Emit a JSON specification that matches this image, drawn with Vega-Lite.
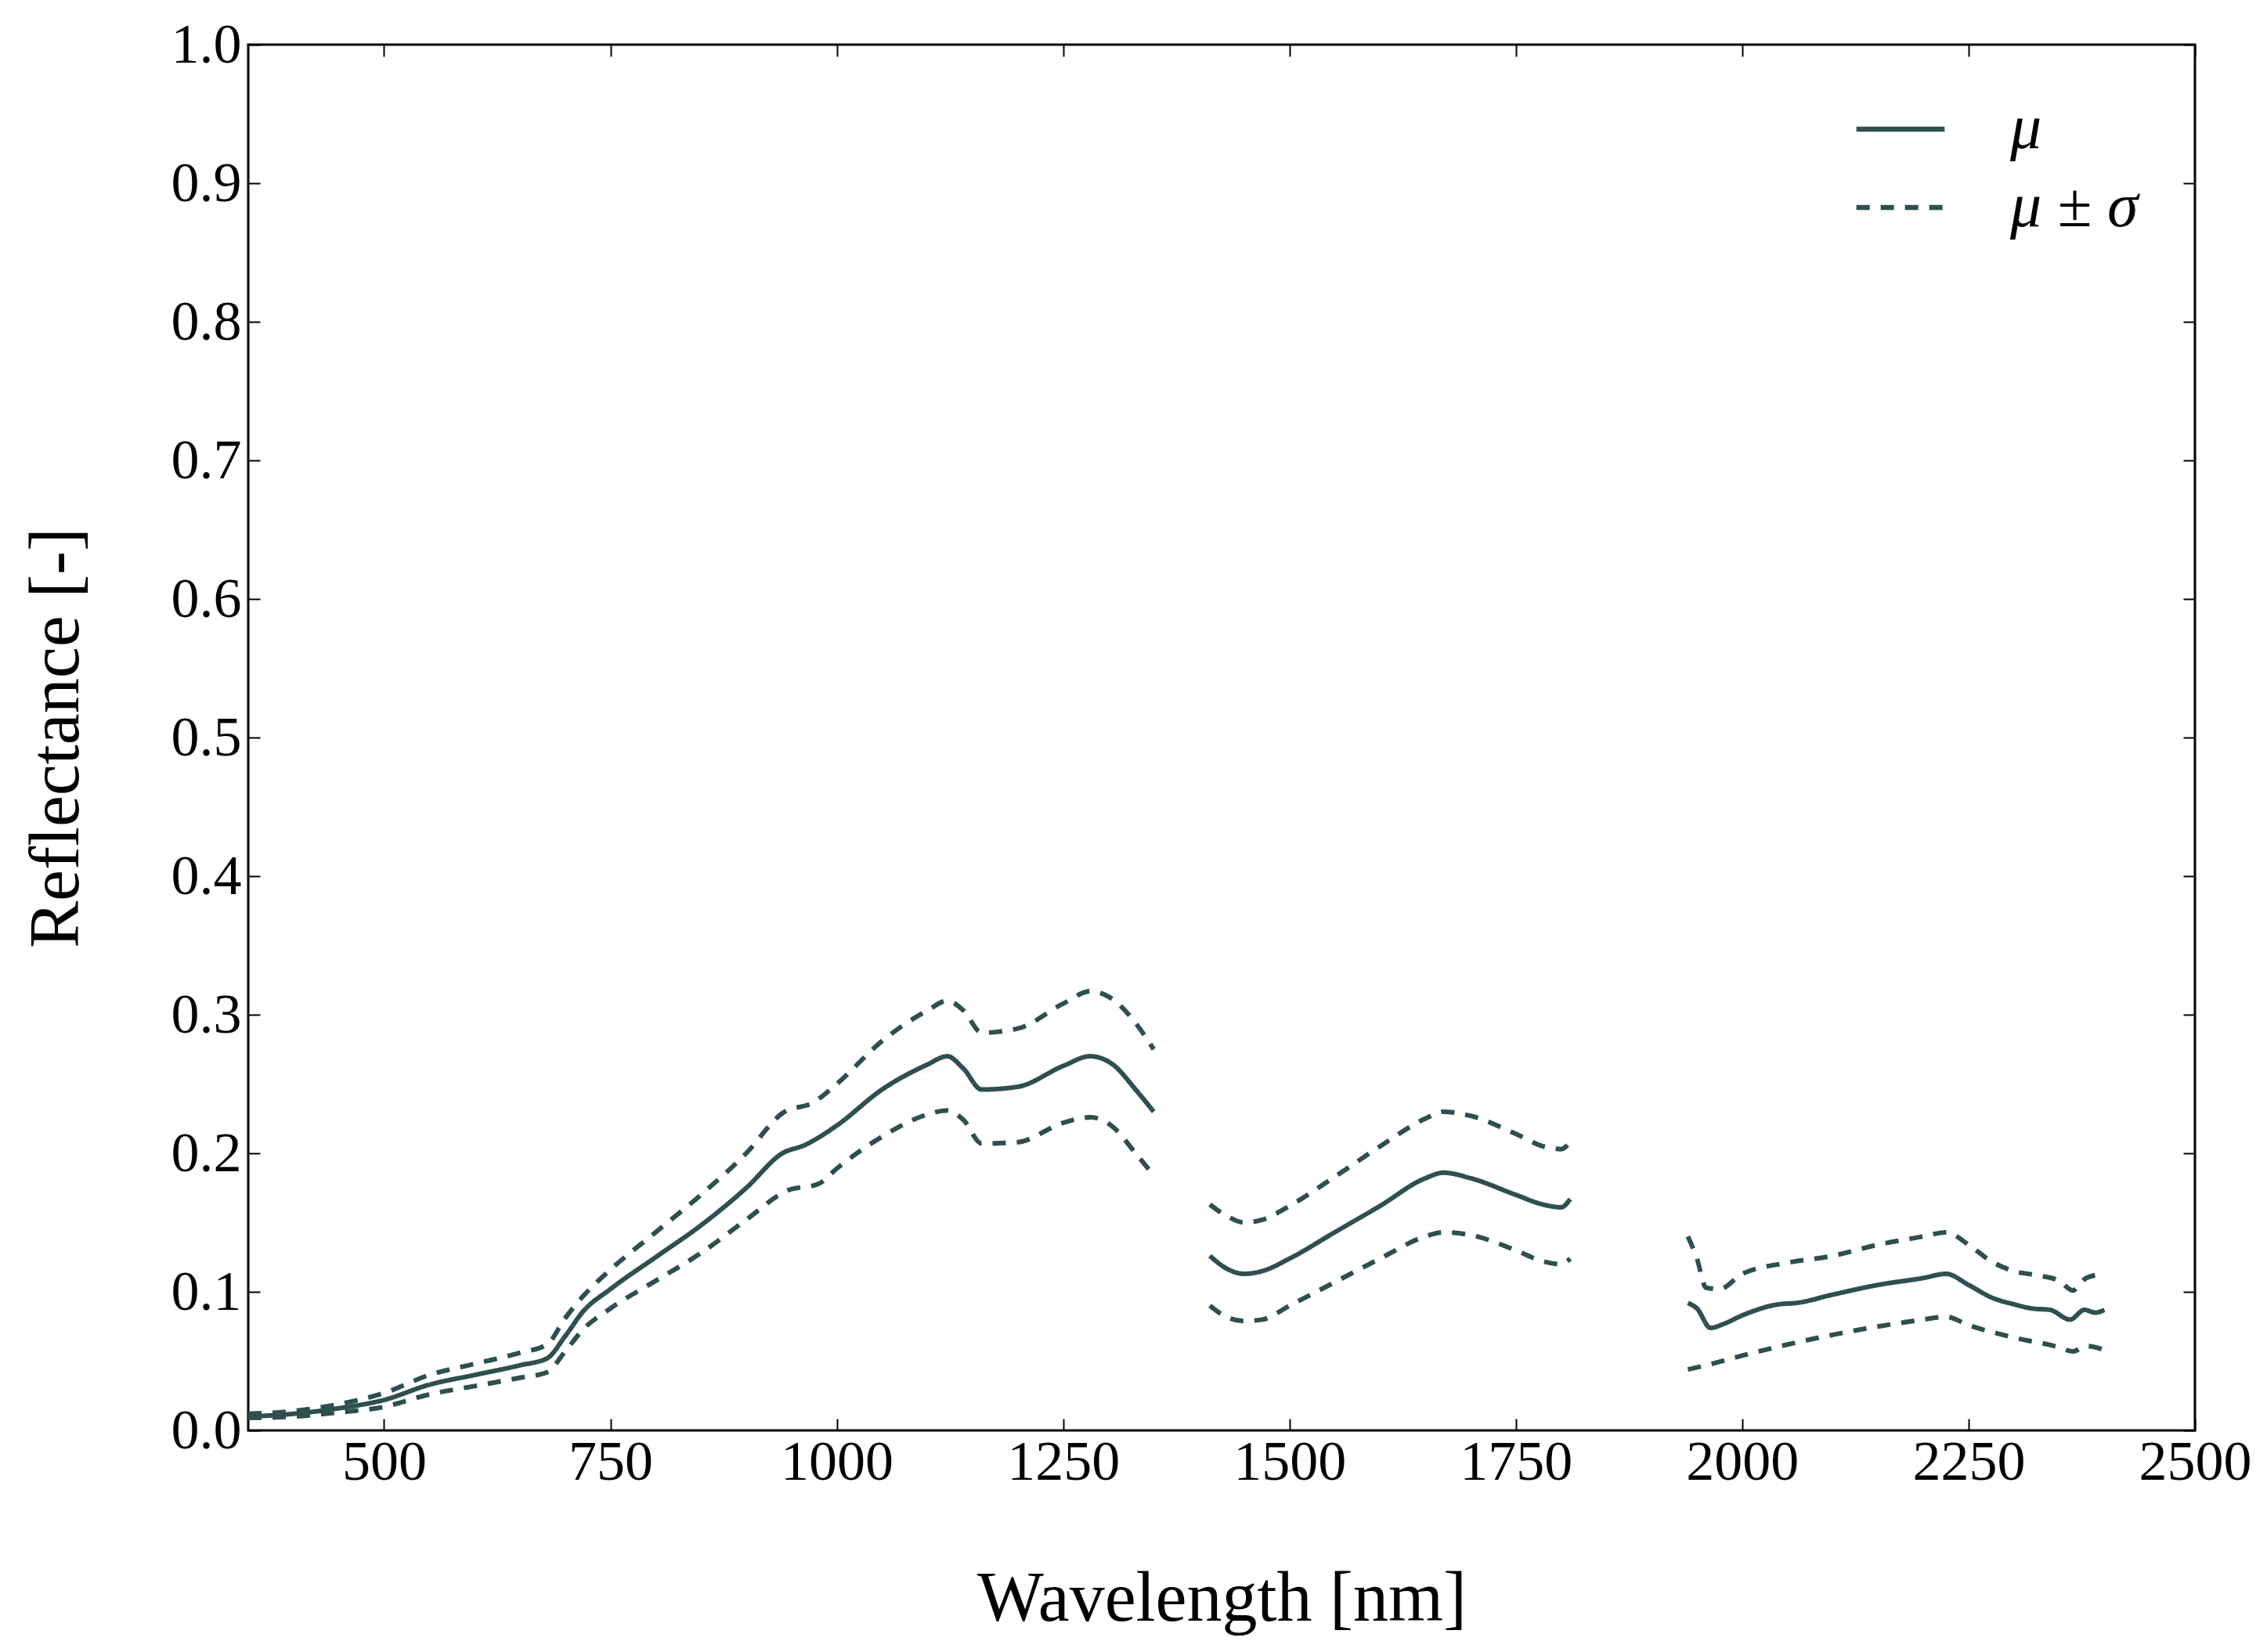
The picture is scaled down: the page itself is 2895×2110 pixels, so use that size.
{
  "$schema": "https://vega.github.io/schema/vega-lite/v6.json",
  "width": 2486,
  "height": 1770,
  "autosize": {"type": "none"},
  "padding": {"left": 317, "top": 57, "right": 92, "bottom": 283},
  "background": "white",
  "config": {
    "view": {"stroke": "black", "strokeWidth": 3},
    "font": "Liberation Serif",
    "axis": {
      "labelFont": "Liberation Serif",
      "titleFont": "Liberation Serif",
      "labelFontSize": 72,
      "titleFontSize": 90,
      "titleFontWeight": "normal",
      "labelColor": "black",
      "titleColor": "black",
      "tickColor": "black",
      "tickWidth": 2,
      "tickSize": -15,
      "grid": false,
      "domain": false,
      "labelOverlap": false,
      "labelFlush": false,
      "labelBound": false
    }
  },
  "data": {
    "values": [
      {"wl": 350, "r": 0.010, "k": "μ", "s": "m1"},
      {"wl": 400, "r": 0.012, "k": "μ", "s": "m1"},
      {"wl": 450, "r": 0.016, "k": "μ", "s": "m1"},
      {"wl": 500, "r": 0.022, "k": "μ", "s": "m1"},
      {"wl": 550, "r": 0.033, "k": "μ", "s": "m1"},
      {"wl": 600, "r": 0.040, "k": "μ", "s": "m1"},
      {"wl": 650, "r": 0.047, "k": "μ", "s": "m1"},
      {"wl": 680, "r": 0.052, "k": "μ", "s": "m1"},
      {"wl": 700, "r": 0.068, "k": "μ", "s": "m1"},
      {"wl": 720, "r": 0.086, "k": "μ", "s": "m1"},
      {"wl": 750, "r": 0.102, "k": "μ", "s": "m1"},
      {"wl": 800, "r": 0.125, "k": "μ", "s": "m1"},
      {"wl": 850, "r": 0.148, "k": "μ", "s": "m1"},
      {"wl": 900, "r": 0.175, "k": "μ", "s": "m1"},
      {"wl": 940, "r": 0.200, "k": "μ", "s": "m1"},
      {"wl": 965, "r": 0.206, "k": "μ", "s": "m1"},
      {"wl": 1000, "r": 0.220, "k": "μ", "s": "m1"},
      {"wl": 1050, "r": 0.246, "k": "μ", "s": "m1"},
      {"wl": 1100, "r": 0.264, "k": "μ", "s": "m1"},
      {"wl": 1122, "r": 0.270, "k": "μ", "s": "m1"},
      {"wl": 1140, "r": 0.261, "k": "μ", "s": "m1"},
      {"wl": 1160, "r": 0.246, "k": "μ", "s": "m1"},
      {"wl": 1200, "r": 0.248, "k": "μ", "s": "m1"},
      {"wl": 1250, "r": 0.263, "k": "μ", "s": "m1"},
      {"wl": 1280, "r": 0.270, "k": "μ", "s": "m1"},
      {"wl": 1305, "r": 0.264, "k": "μ", "s": "m1"},
      {"wl": 1330, "r": 0.246, "k": "μ", "s": "m1"},
      {"wl": 1350, "r": 0.230, "k": "μ", "s": "m1"},

      {"wl": 350, "r": 0.012, "k": "μ ± σ", "s": "u1"},
      {"wl": 400, "r": 0.014, "k": "μ ± σ", "s": "u1"},
      {"wl": 450, "r": 0.019, "k": "μ ± σ", "s": "u1"},
      {"wl": 500, "r": 0.027, "k": "μ ± σ", "s": "u1"},
      {"wl": 550, "r": 0.040, "k": "μ ± σ", "s": "u1"},
      {"wl": 600, "r": 0.048, "k": "μ ± σ", "s": "u1"},
      {"wl": 650, "r": 0.056, "k": "μ ± σ", "s": "u1"},
      {"wl": 680, "r": 0.062, "k": "μ ± σ", "s": "u1"},
      {"wl": 700, "r": 0.081, "k": "μ ± σ", "s": "u1"},
      {"wl": 720, "r": 0.097, "k": "μ ± σ", "s": "u1"},
      {"wl": 750, "r": 0.116, "k": "μ ± σ", "s": "u1"},
      {"wl": 800, "r": 0.143, "k": "μ ± σ", "s": "u1"},
      {"wl": 850, "r": 0.170, "k": "μ ± σ", "s": "u1"},
      {"wl": 900, "r": 0.200, "k": "μ ± σ", "s": "u1"},
      {"wl": 940, "r": 0.229, "k": "μ ± σ", "s": "u1"},
      {"wl": 975, "r": 0.237, "k": "μ ± σ", "s": "u1"},
      {"wl": 1000, "r": 0.250, "k": "μ ± σ", "s": "u1"},
      {"wl": 1050, "r": 0.281, "k": "μ ± σ", "s": "u1"},
      {"wl": 1100, "r": 0.303, "k": "μ ± σ", "s": "u1"},
      {"wl": 1122, "r": 0.310, "k": "μ ± σ", "s": "u1"},
      {"wl": 1140, "r": 0.303, "k": "μ ± σ", "s": "u1"},
      {"wl": 1160, "r": 0.287, "k": "μ ± σ", "s": "u1"},
      {"wl": 1200, "r": 0.290, "k": "μ ± σ", "s": "u1"},
      {"wl": 1250, "r": 0.308, "k": "μ ± σ", "s": "u1"},
      {"wl": 1280, "r": 0.317, "k": "μ ± σ", "s": "u1"},
      {"wl": 1305, "r": 0.311, "k": "μ ± σ", "s": "u1"},
      {"wl": 1330, "r": 0.294, "k": "μ ± σ", "s": "u1"},
      {"wl": 1350, "r": 0.275, "k": "μ ± σ", "s": "u1"},

      {"wl": 350, "r": 0.009, "k": "μ ± σ", "s": "l1"},
      {"wl": 400, "r": 0.010, "k": "μ ± σ", "s": "l1"},
      {"wl": 450, "r": 0.013, "k": "μ ± σ", "s": "l1"},
      {"wl": 500, "r": 0.017, "k": "μ ± σ", "s": "l1"},
      {"wl": 550, "r": 0.026, "k": "μ ± σ", "s": "l1"},
      {"wl": 600, "r": 0.032, "k": "μ ± σ", "s": "l1"},
      {"wl": 650, "r": 0.038, "k": "μ ± σ", "s": "l1"},
      {"wl": 680, "r": 0.042, "k": "μ ± σ", "s": "l1"},
      {"wl": 700, "r": 0.057, "k": "μ ± σ", "s": "l1"},
      {"wl": 720, "r": 0.073, "k": "μ ± σ", "s": "l1"},
      {"wl": 750, "r": 0.088, "k": "μ ± σ", "s": "l1"},
      {"wl": 800, "r": 0.108, "k": "μ ± σ", "s": "l1"},
      {"wl": 850, "r": 0.128, "k": "μ ± σ", "s": "l1"},
      {"wl": 900, "r": 0.152, "k": "μ ± σ", "s": "l1"},
      {"wl": 945, "r": 0.173, "k": "μ ± σ", "s": "l1"},
      {"wl": 980, "r": 0.178, "k": "μ ± σ", "s": "l1"},
      {"wl": 1000, "r": 0.189, "k": "μ ± σ", "s": "l1"},
      {"wl": 1050, "r": 0.212, "k": "μ ± σ", "s": "l1"},
      {"wl": 1100, "r": 0.228, "k": "μ ± σ", "s": "l1"},
      {"wl": 1122, "r": 0.231, "k": "μ ± σ", "s": "l1"},
      {"wl": 1140, "r": 0.224, "k": "μ ± σ", "s": "l1"},
      {"wl": 1160, "r": 0.207, "k": "μ ± σ", "s": "l1"},
      {"wl": 1200, "r": 0.208, "k": "μ ± σ", "s": "l1"},
      {"wl": 1250, "r": 0.222, "k": "μ ± σ", "s": "l1"},
      {"wl": 1280, "r": 0.226, "k": "μ ± σ", "s": "l1"},
      {"wl": 1305, "r": 0.219, "k": "μ ± σ", "s": "l1"},
      {"wl": 1330, "r": 0.200, "k": "μ ± σ", "s": "l1"},
      {"wl": 1350, "r": 0.184, "k": "μ ± σ", "s": "l1"},

      {"wl": 1412, "r": 0.126, "k": "μ", "s": "m2"},
      {"wl": 1430, "r": 0.117, "k": "μ", "s": "m2"},
      {"wl": 1450, "r": 0.113, "k": "μ", "s": "m2"},
      {"wl": 1470, "r": 0.115, "k": "μ", "s": "m2"},
      {"wl": 1500, "r": 0.124, "k": "μ", "s": "m2"},
      {"wl": 1550, "r": 0.143, "k": "μ", "s": "m2"},
      {"wl": 1600, "r": 0.162, "k": "μ", "s": "m2"},
      {"wl": 1650, "r": 0.182, "k": "μ", "s": "m2"},
      {"wl": 1670, "r": 0.186, "k": "μ", "s": "m2"},
      {"wl": 1700, "r": 0.182, "k": "μ", "s": "m2"},
      {"wl": 1750, "r": 0.170, "k": "μ", "s": "m2"},
      {"wl": 1780, "r": 0.163, "k": "μ", "s": "m2"},
      {"wl": 1800, "r": 0.161, "k": "μ", "s": "m2"},
      {"wl": 1810, "r": 0.167, "k": "μ", "s": "m2"},

      {"wl": 1412, "r": 0.163, "k": "μ ± σ", "s": "u2"},
      {"wl": 1430, "r": 0.155, "k": "μ ± σ", "s": "u2"},
      {"wl": 1450, "r": 0.150, "k": "μ ± σ", "s": "u2"},
      {"wl": 1470, "r": 0.152, "k": "μ ± σ", "s": "u2"},
      {"wl": 1500, "r": 0.162, "k": "μ ± σ", "s": "u2"},
      {"wl": 1550, "r": 0.183, "k": "μ ± σ", "s": "u2"},
      {"wl": 1600, "r": 0.205, "k": "μ ± σ", "s": "u2"},
      {"wl": 1650, "r": 0.225, "k": "μ ± σ", "s": "u2"},
      {"wl": 1670, "r": 0.230, "k": "μ ± σ", "s": "u2"},
      {"wl": 1700, "r": 0.227, "k": "μ ± σ", "s": "u2"},
      {"wl": 1750, "r": 0.214, "k": "μ ± σ", "s": "u2"},
      {"wl": 1780, "r": 0.205, "k": "μ ± σ", "s": "u2"},
      {"wl": 1800, "r": 0.203, "k": "μ ± σ", "s": "u2"},
      {"wl": 1810, "r": 0.208, "k": "μ ± σ", "s": "u2"},

      {"wl": 1412, "r": 0.090, "k": "μ ± σ", "s": "l2"},
      {"wl": 1430, "r": 0.082, "k": "μ ± σ", "s": "l2"},
      {"wl": 1450, "r": 0.079, "k": "μ ± σ", "s": "l2"},
      {"wl": 1470, "r": 0.080, "k": "μ ± σ", "s": "l2"},
      {"wl": 1500, "r": 0.090, "k": "μ ± σ", "s": "l2"},
      {"wl": 1550, "r": 0.107, "k": "μ ± σ", "s": "l2"},
      {"wl": 1600, "r": 0.124, "k": "μ ± σ", "s": "l2"},
      {"wl": 1650, "r": 0.140, "k": "μ ± σ", "s": "l2"},
      {"wl": 1670, "r": 0.143, "k": "μ ± σ", "s": "l2"},
      {"wl": 1700, "r": 0.141, "k": "μ ± σ", "s": "l2"},
      {"wl": 1750, "r": 0.130, "k": "μ ± σ", "s": "l2"},
      {"wl": 1780, "r": 0.122, "k": "μ ± σ", "s": "l2"},
      {"wl": 1800, "r": 0.120, "k": "μ ± σ", "s": "l2"},
      {"wl": 1810, "r": 0.124, "k": "μ ± σ", "s": "l2"},

      {"wl": 1940, "r": 0.092, "k": "μ", "s": "m3"},
      {"wl": 1950, "r": 0.088, "k": "μ", "s": "m3"},
      {"wl": 1965, "r": 0.074, "k": "μ", "s": "m3"},
      {"wl": 1980, "r": 0.077, "k": "μ", "s": "m3"},
      {"wl": 2000, "r": 0.083, "k": "μ", "s": "m3"},
      {"wl": 2040, "r": 0.091, "k": "μ", "s": "m3"},
      {"wl": 2060, "r": 0.092, "k": "μ", "s": "m3"},
      {"wl": 2100, "r": 0.098, "k": "μ", "s": "m3"},
      {"wl": 2150, "r": 0.105, "k": "μ", "s": "m3"},
      {"wl": 2200, "r": 0.110, "k": "μ", "s": "m3"},
      {"wl": 2225, "r": 0.113, "k": "μ", "s": "m3"},
      {"wl": 2250, "r": 0.105, "k": "μ", "s": "m3"},
      {"wl": 2275, "r": 0.096, "k": "μ", "s": "m3"},
      {"wl": 2300, "r": 0.091, "k": "μ", "s": "m3"},
      {"wl": 2320, "r": 0.088, "k": "μ", "s": "m3"},
      {"wl": 2340, "r": 0.087, "k": "μ", "s": "m3"},
      {"wl": 2362, "r": 0.080, "k": "μ", "s": "m3"},
      {"wl": 2378, "r": 0.087, "k": "μ", "s": "m3"},
      {"wl": 2390, "r": 0.085, "k": "μ", "s": "m3"},
      {"wl": 2400, "r": 0.087, "k": "μ", "s": "m3"},

      {"wl": 1940, "r": 0.140, "k": "μ ± σ", "s": "u3"},
      {"wl": 1950, "r": 0.124, "k": "μ ± σ", "s": "u3"},
      {"wl": 1960, "r": 0.103, "k": "μ ± σ", "s": "u3"},
      {"wl": 1975, "r": 0.102, "k": "μ ± σ", "s": "u3"},
      {"wl": 2000, "r": 0.113, "k": "μ ± σ", "s": "u3"},
      {"wl": 2050, "r": 0.121, "k": "μ ± σ", "s": "u3"},
      {"wl": 2100, "r": 0.126, "k": "μ ± σ", "s": "u3"},
      {"wl": 2150, "r": 0.134, "k": "μ ± σ", "s": "u3"},
      {"wl": 2200, "r": 0.140, "k": "μ ± σ", "s": "u3"},
      {"wl": 2225, "r": 0.143, "k": "μ ± σ", "s": "u3"},
      {"wl": 2250, "r": 0.134, "k": "μ ± σ", "s": "u3"},
      {"wl": 2275, "r": 0.122, "k": "μ ± σ", "s": "u3"},
      {"wl": 2300, "r": 0.115, "k": "μ ± σ", "s": "u3"},
      {"wl": 2325, "r": 0.112, "k": "μ ± σ", "s": "u3"},
      {"wl": 2350, "r": 0.108, "k": "μ ± σ", "s": "u3"},
      {"wl": 2365, "r": 0.101, "k": "μ ± σ", "s": "u3"},
      {"wl": 2380, "r": 0.110, "k": "μ ± σ", "s": "u3"},
      {"wl": 2400, "r": 0.113, "k": "μ ± σ", "s": "u3"},

      {"wl": 1940, "r": 0.044, "k": "μ ± σ", "s": "l3"},
      {"wl": 1960, "r": 0.047, "k": "μ ± σ", "s": "l3"},
      {"wl": 2000, "r": 0.054, "k": "μ ± σ", "s": "l3"},
      {"wl": 2050, "r": 0.062, "k": "μ ± σ", "s": "l3"},
      {"wl": 2100, "r": 0.069, "k": "μ ± σ", "s": "l3"},
      {"wl": 2150, "r": 0.075, "k": "μ ± σ", "s": "l3"},
      {"wl": 2200, "r": 0.080, "k": "μ ± σ", "s": "l3"},
      {"wl": 2225, "r": 0.082, "k": "μ ± σ", "s": "l3"},
      {"wl": 2250, "r": 0.076, "k": "μ ± σ", "s": "l3"},
      {"wl": 2300, "r": 0.067, "k": "μ ± σ", "s": "l3"},
      {"wl": 2350, "r": 0.060, "k": "μ ± σ", "s": "l3"},
      {"wl": 2365, "r": 0.057, "k": "μ ± σ", "s": "l3"},
      {"wl": 2380, "r": 0.061, "k": "μ ± σ", "s": "l3"},
      {"wl": 2400, "r": 0.058, "k": "μ ± σ", "s": "l3"}
    ]
  },
  "layer": [
    {
      "mark": {"type": "line", "interpolate": "monotone", "color": "#2F4F4F", "strokeWidth": 6},
      "encoding": {
        "x": {
          "field": "wl",
          "type": "quantitative",
          "scale": {"domain": [350, 2500], "nice": false, "zero": false},
          "axis": {
            "orient": "bottom",
            "values": [500, 750, 1000, 1250, 1500, 1750, 2000, 2250, 2500],
            "format": "d",
            "labelPadding": 20,
            "title": "Wavelength [nm]",
            "titlePadding": 95
          }
        },
        "y": {
          "field": "r",
          "type": "quantitative",
          "scale": {"domain": [0, 1], "nice": false},
          "axis": {
            "orient": "left",
            "values": [0, 0.1, 0.2, 0.3, 0.4, 0.5, 0.6, 0.7, 0.8, 0.9, 1.0],
            "format": ".1f",
            "labelPadding": 24,
            "title": "Reflectance [-]",
            "titlePadding": 100
          }
        },
        "detail": {"field": "s"},
        "strokeDash": {
          "field": "k",
          "type": "nominal",
          "scale": {"domain": ["μ", "μ ± σ"], "range": [[1, 0], [17, 14]]},
          "legend": {
            "title": null,
            "orient": "none",
            "legendX": 2050,
            "legendY": 48,
            "symbolType": "stroke",
            "symbolSize": 12700,
            "symbolStrokeWidth": 6.5,
            "symbolStrokeColor": "#2F4F4F",
            "labelFont": "Liberation Serif",
            "labelFontStyle": "italic",
            "labelFontSize": 80,
            "labelLimit": 0,
            "labelColor": "black",
            "labelOffset": 80,
            "rowPadding": 0
          }
        }
      }
    },
    {
      "mark": {"type": "line", "strokeOpacity": 0},
      "encoding": {
        "x": {
          "field": "wl",
          "type": "quantitative",
          "scale": {"domain": [350, 2500], "nice": false, "zero": false},
          "axis": {
            "orient": "top",
            "values": [500, 750, 1000, 1250, 1500, 1750, 2000, 2250, 2500],
            "labels": false,
            "title": null
          }
        },
        "y": {
          "field": "r",
          "type": "quantitative",
          "scale": {"domain": [0, 1], "nice": false},
          "axis": {
            "orient": "right",
            "values": [0, 0.1, 0.2, 0.3, 0.4, 0.5, 0.6, 0.7, 0.8, 0.9, 1.0],
            "labels": false,
            "title": null
          }
        },
        "detail": {"field": "s"}
      }
    }
  ],
  "resolve": {"scale": {"x": "independent", "y": "independent"}}
}
